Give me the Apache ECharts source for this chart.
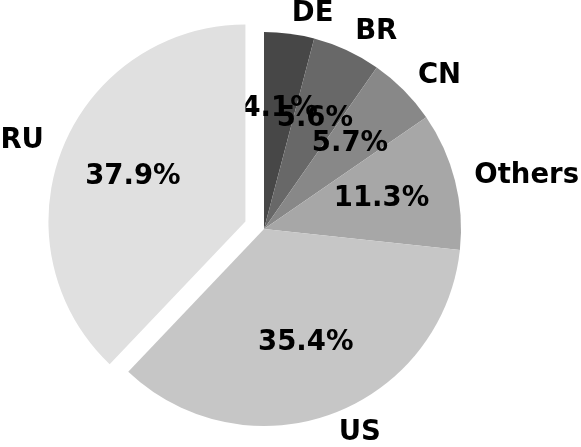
<!DOCTYPE html>
<html>
<head>
<meta charset="utf-8">
<script src="https://cdn.jsdelivr.net/npm/echarts@6/dist/echarts.min.js"></script>
<style>
  html, body { margin: 0; padding: 0; background: #fff; }
  #chart { width: 581px; height: 447px; }
</style>
</head>
<body>
<div id="chart"></div>
<script>
// Pie of shares, starts at 12 o'clock, clockwise; RU slice pulled out
const names = ['DE', 'BR', 'CN', 'Others', 'US', 'RU']
const shares = [4.1, 5.6, 5.7, 11.3, 35.4, 37.9]
const greys = ['#474747', '#686868', '#888888', '#a7a7a7', '#c6c6c6', '#e0e0e0']
const exploded = ['RU']

const FONT = { fontFamily: 'DejaVu Sans', fontWeight: 'bold', fontSize: 27.5, color: '#000' }
const CX = 264, CY = 229, R = 197

const chart = echarts.init(document.getElementById('chart'))

const slices = (transparent) => names.map((n, i) => ({
  name: n,
  value: shares[i],
  selected: exploded.includes(n),
  itemStyle: { color: transparent ? 'rgba(0,0,0,0)' : greys[i] },
  select: { itemStyle: { color: transparent ? 'rgba(0,0,0,0)' : greys[i] } }
}))

chart.setOption({
  animation: false,
  series: [
    {
      // slices + names outside
      type: 'pie', center: [CX, CY], radius: [0, R], startAngle: 90,
      selectedMode: 'multiple', selectedOffset: 20, avoidLabelOverlap: false,
      silent: true,
      label: { show: true, position: 'outside', distanceToLabelLine: 0, formatter: '{b}', ...FONT },
      labelLine: { show: false, length: 20, length2: 0 },
      labelLayout: { hideOverlap: false },
      data: slices(false)
    },
    {
      // percentages at 0.6 R
      type: 'pie', center: [CX, CY], radius: [R * 0.2, R], startAngle: 90,
      selectedMode: 'multiple', selectedOffset: 20, avoidLabelOverlap: false,
      silent: true,
      label: { show: true, position: 'inside', formatter: p => p.value.toFixed(1) + '%', ...FONT },
      labelLine: { show: false },
      labelLayout: { hideOverlap: false },
      data: slices(true)
    }
  ]
})
</script>
</body>
</html>
